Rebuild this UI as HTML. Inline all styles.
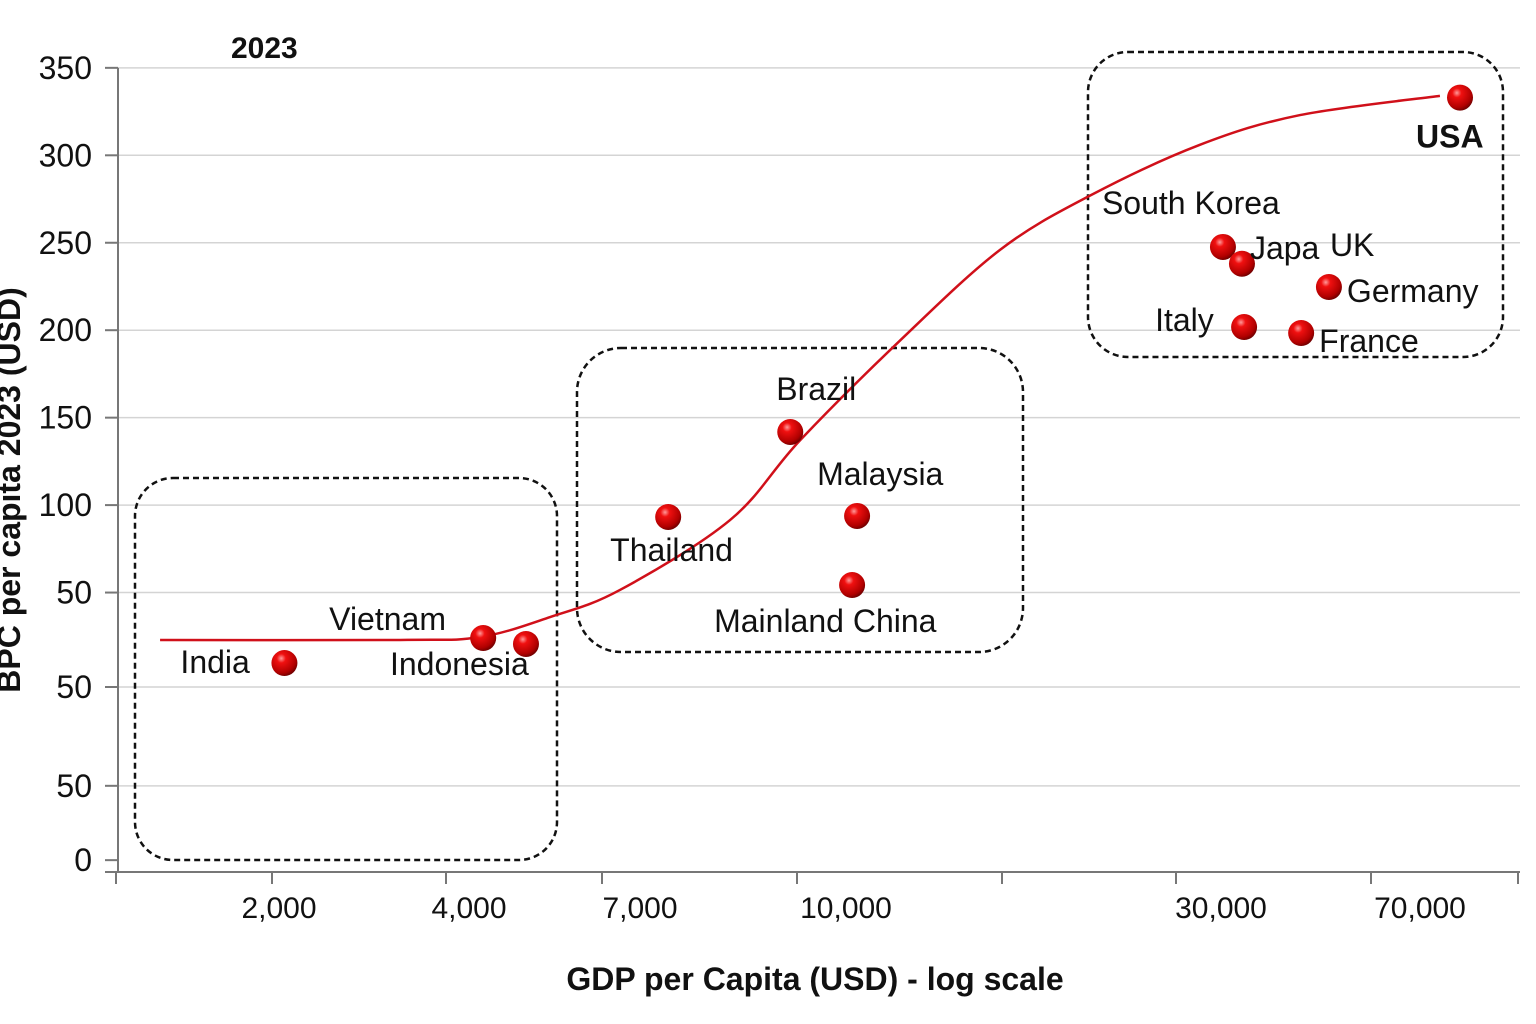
<!DOCTYPE html>
<html><head><meta charset="utf-8"><style>
html,body{margin:0;padding:0;background:#fff;}
svg{display:block;font-family:"Liberation Sans","DejaVu Sans",sans-serif;}
</style></head><body>
<svg id="chart" width="1536" height="1024" viewBox="0 0 1536 1024">
<defs>
<radialGradient id="ball" cx="0.38" cy="0.32" r="0.7">
<stop offset="0" stop-color="#ff9a9a"/><stop offset="0.25" stop-color="#f01010"/><stop offset="0.8" stop-color="#b00000"/><stop offset="1" stop-color="#700000"/>
</radialGradient>
</defs>
<g id="grid"></g>
<g id="boxes">
<rect x="135" y="478" width="422" height="382" rx="38" fill="none" stroke="#111" stroke-width="2.5" stroke-dasharray="6,4"/>
<rect x="577" y="348" width="446" height="304" rx="44" fill="none" stroke="#111" stroke-width="2.5" stroke-dasharray="6,4"/>
<rect x="1088" y="52" width="415" height="305" rx="40" fill="none" stroke="#111" stroke-width="2.5" stroke-dasharray="6,4"/>
</g>
<g id="axes"></g>
<path id="curve" fill="none" stroke="#d0101a" stroke-width="2.5"/>
<g id="points"></g>
<text x="231" y="58" font-size="30" font-weight="bold" fill="#111">2023</text>
<text x="815" y="990" font-size="32" font-weight="bold" text-anchor="middle" fill="#111">GDP per Capita (USD) - log scale</text>
<text transform="translate(20,490) rotate(-90)" font-size="32" font-weight="bold" text-anchor="middle" fill="#111">BPC per capita 2023 (USD)</text>
</svg>
<script>
const countries=["India","Vietnam","Indonesia","Thailand","Brazil","Malaysia","Mainland China","South Korea","Japa","UK","Italy","France","Germany","USA"];
const gdp=[2040,4190,4820,7350,9080,10330,10180,30250,32800,32800,33100,42200,47500,83000];
const bpc=[9.7,24,20.6,93.2,141.8,93.8,54.3,247.6,238,238,201.8,198.4,224.7,333];
const yTickValues=[350,300,250,200,150,100,50,-4,-60.5,-103];
const yTickLabels=["350","300","250","200","150","100","50","50","50","0"];
const xTickValues=[2000,4000,7000,10000,30000,70000];
const xTickLabels=["2,000","4,000","7,000","10,000","30,000","70,000"];
const curveX=[1296,3110,4146,5216,6556,8183,9234,11710,15710,20450,28200,42000,76200];
const curveY=[22.9,22.9,24.6,36,51.5,91.5,137,194,246,277,306,323,334];
const xs=[[2000,279],[4000,469],[7000,640],[10000,846],[30000,1221],[70000,1420]];
function xScale(v){let i=0;if(v<=xs[0][0])i=0;else if(v>=xs[xs.length-1][0])i=xs.length-2;else{while(!(v>=xs[i][0]&&v<=xs[i+1][0]))i++;}
const a=xs[i],b=xs[i+1];return a[1]+(Math.log(v/a[0])/Math.log(b[0]/a[0]))*(b[1]-a[1]);}
function yScale(v){return 680-v*1.749;}
const NS="http://www.w3.org/2000/svg";
function mk(t,at,p){const e=document.createElementNS(NS,t);for(const k in at)e.setAttribute(k,at[k]);p.appendChild(e);return e;}
const grid=document.getElementById('grid'),axes=document.getElementById('axes'),pts=document.getElementById('points');
yTickValues.forEach((v,i)=>{const y=yScale(v);
if(i<yTickValues.length-1){const g=mk('line',{x1:118,x2:1520,y1:y,y2:y,stroke:'#d4d4d4','stroke-width':1.5},grid);

}
const tk=mk('line',{x1:105,x2:118,y1:y,y2:y,stroke:'#777','stroke-width':2},axes);


const t=mk('text',{x:92,y:y+11,'font-size':32,'text-anchor':'end',fill:'#111'},axes);t.textContent=yTickLabels[i];

});
const ya=mk('line',{x1:118,x2:118,y1:yScale(350),y2:872,stroke:'#777','stroke-width':2},axes);


const xa=mk('line',{x1:105,x2:1520,y1:872,y2:872,stroke:'#777','stroke-width':2},axes);


[116,272,446,602,797,1002,1176,1371,1518].forEach(x=>{const l=mk('line',{x1:x,x2:x,y1:872,y2:884,stroke:'#777','stroke-width':2},axes);

});
xTickValues.forEach((v,i)=>{const t=mk('text',{x:xScale(v),y:918,'font-size':30,'text-anchor':'middle',fill:'#111'},axes);t.textContent=xTickLabels[i];

});
const P=curveX.map((v,i)=>[xScale(v),yScale(curveY[i])]);
let d='M'+P[0][0]+','+P[0][1];
for(let i=0;i<P.length-1;i++){const p0=P[Math.max(0,i-1)],p1=P[i],p2=P[i+1],p3=P[Math.min(P.length-1,i+2)];
d+=' C'+(p1[0]+(p2[0]-p0[0])/6)+','+(p1[1]+(p2[1]-p0[1])/6)+' '+(p2[0]-(p3[0]-p1[0])/6)+','+(p2[1]-(p3[1]-p1[1])/6)+' '+p2[0]+','+p2[1];}
document.getElementById('curve').setAttribute('d',d);
const lab={"India":[-104,10],"Vietnam":[-154,-8],"Indonesia":[-136,31],"Thailand":[-58,44],"Brazil":[-14,-32],"Malaysia":[-40,-31],"Mainland China":[-138,47],"South Korea":[-121,-33],"Japa":[27,12],"UK":[107,9],"Italy":[-89,4],"France":[18,19],"Germany":[18,15],"USA":[-44,50]};
countries.forEach((c,i)=>{const x=xScale(gdp[i]),y=yScale(bpc[i]);
if(c!=="UK"){const ci=mk('circle',{cx:x,cy:y,r:13,fill:'url(#ball)'},pts);

}
const L=lab[c];
let lx=x+L[0],ly=y+L[1];
if(c==="Japa"||c==="UK"){lx=xScale(gdp[7])+L[0];ly=yScale(bpc[7])+L[1];}
const t=mk('text',{x:lx,y:ly,'font-size':32,fill:'#111'},pts);t.textContent=c;
if(c==="USA")t.setAttribute('font-weight','bold');

});
</script>
</body></html>
